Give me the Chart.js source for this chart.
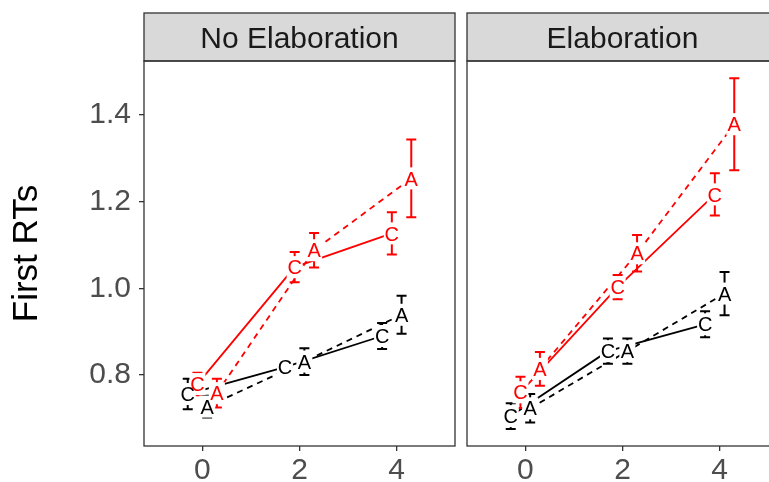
<!DOCTYPE html>
<html>
<head>
<meta charset="utf-8">
<script src="https://cdn.jsdelivr.net/npm/chart.js@4.4.0/dist/chart.umd.min.js"></script>
<style>
  html, body { margin: 0; padding: 0; background: #fff; overflow: hidden; width: 769px; height: 482px; }
  .panel { position: absolute; top: 0; }
</style>
</head>
<body>
<canvas id="noElabChart" class="panel" width="458" height="482" style="left:0"></canvas>
<canvas id="elabChart" class="panel" width="322" height="482" style="left:458px"></canvas>
<script>
// x positions and y tick values
const sessions = [0, 2, 4];
const yTickValues = [0.8, 1.0, 1.2, 1.4];
const panelTitles = ['No Elaboration', 'Elaboration'];

// No Elaboration panel: means and error half widths
const noElabBlackC = [0.756, 0.818, 0.890];
const noElabBlackCErr = [0.035, 0.017, 0.030];
const noElabBlackA = [0.727, 0.831, 0.939];
const noElabBlackAErr = [0.025, 0.031, 0.044];
const noElabRedC = [0.779, 1.049, 1.127];
const noElabRedCErr = [0.026, 0.035, 0.049];
const noElabRedA = [0.758, 1.088, 1.254];
const noElabRedAErr = [0.033, 0.040, 0.090];

// Elaboration panel
const elabBlackC = [0.705, 0.855, 0.917];
const elabBlackCErr = [0.030, 0.029, 0.030];
const elabBlackA = [0.723, 0.855, 0.988];
const elabBlackAErr = [0.033, 0.029, 0.050];
const elabRedC = [0.760, 1.003, 1.217];
const elabRedCErr = [0.036, 0.028, 0.049];
const elabRedA = [0.814, 1.081, 1.379];
const elabRedAErr = [0.039, 0.042, 0.106];

const FONT = "'Liberation Sans', Arial, sans-serif";
const Y_MIN = 0.636, Y_MAX = 1.525;
const X_MIN = -1.2, X_MAX = 5.2;
const LETTER_SIZE = 20;

// letter, colour, line dash and dodge offset for each group
const groupStyles = {
    blackC: { letter: 'C', color: '#000000', dash: [], dodge: -0.3 },
    redC:   { letter: 'C', color: '#FF0000', dash: [], dodge: -0.1 },
    blackA: { letter: 'A', color: '#000000', dash: [6, 5], dodge: 0.1 },
    redA:   { letter: 'A', color: '#FF0000', dash: [6, 5], dodge: 0.3 }
};

function buildGroups(blackC, blackCErr, redC, redCErr, blackA, blackAErr, redA, redAErr) {
    return [
        { style: groupStyles.blackC, mean: blackC, err: blackCErr },
        { style: groupStyles.redC, mean: redC, err: redCErr },
        { style: groupStyles.blackA, mean: blackA, err: blackAErr },
        { style: groupStyles.redA, mean: redA, err: redAErr }
    ];
}

/**
 * Error bars, white label boxes and letters drawn over the lines,
 * then strip and panel border
 */
function panelPlugin(title, groups) {
    return {
        id: 'panelMarks',
        afterDatasetsDraw(chart) {
            const { ctx, scales: { x, y } } = chart;
            ctx.save();
            // error bars
            groups.forEach(g => {
                ctx.strokeStyle = g.style.color;
                ctx.lineWidth = 2;
                ctx.setLineDash([]);
                g.mean.forEach((m, i) => {
                    const px = x.getPixelForValue(sessions[i] + g.style.dodge);
                    const top = y.getPixelForValue(m + g.err[i]);
                    const bot = y.getPixelForValue(m - g.err[i]);
                    ctx.beginPath();
                    ctx.moveTo(px, top); ctx.lineTo(px, bot);
                    ctx.moveTo(px - 5, top); ctx.lineTo(px + 5, top);
                    ctx.moveTo(px - 5, bot); ctx.lineTo(px + 5, bot);
                    ctx.stroke();
                });
            });
            // white boxes behind the letters
            ctx.fillStyle = '#ffffff';
            groups.forEach(g => {
                g.mean.forEach((m, i) => {
                    const px = x.getPixelForValue(sessions[i] + g.style.dodge);
                    const py = y.getPixelForValue(m);
                    ctx.fillRect(px - 8, py - 11, 16, 22);
                });
            });
            // letters
            ctx.font = LETTER_SIZE + 'px ' + FONT;
            ctx.textAlign = 'center';
            ctx.textBaseline = 'alphabetic';
            groups.forEach(g => {
                ctx.fillStyle = g.style.color;
                g.mean.forEach((m, i) => {
                    const px = x.getPixelForValue(sessions[i] + g.style.dodge);
                    const py = y.getPixelForValue(m);
                    ctx.fillText(g.style.letter, px, py + LETTER_SIZE * 0.358);
                });
            });
            ctx.restore();
        },
        afterDraw(chart) {
            const { ctx, chartArea: a } = chart;
            ctx.save();
            ctx.fillStyle = '#D9D9D9';
            ctx.fillRect(a.left, 13, a.right - a.left, a.top - 13);
            ctx.strokeStyle = '#333333';
            ctx.lineWidth = 1.3;
            ctx.strokeRect(a.left, 13, a.right - a.left, a.top - 13);
            ctx.strokeRect(a.left, a.top, a.right - a.left, a.bottom - a.top);
            ctx.fillStyle = '#1A1A1A';
            ctx.font = '30px ' + FONT;
            ctx.textAlign = 'center';
            ctx.textBaseline = 'alphabetic';
            ctx.fillText(title, (a.left + a.right) / 2, (13 + a.top) / 2 + 30 * 0.358);
            ctx.restore();
        }
    };
}

function makePanel(canvasId, title, groups, showY, padding) {
    const datasets = groups.map(g => ({
        data: g.mean.map((m, i) => ({ x: sessions[i] + g.style.dodge, y: m })),
        borderColor: g.style.color,
        borderWidth: 1.8,
        borderDash: g.style.dash,
        pointRadius: 0,
        fill: false,
        tension: 0
    }));

    return new Chart(document.getElementById(canvasId), {
        type: 'line',
        data: { datasets: datasets },
        options: {
            responsive: false,
            animation: false,
            events: [],
            layout: { padding: padding },
            plugins: {
                legend: { display: false },
                tooltip: { enabled: false },
                title: { display: false }
            },
            scales: {
                x: {
                    type: 'linear',
                    min: X_MIN,
                    max: X_MAX,
                    afterBuildTicks: s => { s.ticks = sessions.map(v => ({ value: v })); },
                    afterFit: s => { s.height = 36; },
                    grid: { drawOnChartArea: false, drawTicks: true, tickLength: 5, color: '#333333', lineWidth: 1.3 },
                    border: { display: false },
                    ticks: {
                        color: '#4D4D4D',
                        font: { family: FONT, size: 30 },
                        padding: 2,
                        maxRotation: 0
                    }
                },
                y: {
                    type: 'linear',
                    display: showY,
                    min: Y_MIN,
                    max: Y_MAX,
                    afterBuildTicks: s => { s.ticks = yTickValues.map(v => ({ value: v })); },
                    afterFit: s => { s.width = showY ? 144 : 0; },
                    grid: { drawOnChartArea: false, drawTicks: true, tickLength: 5, color: '#333333', lineWidth: 1.3 },
                    border: { display: false },
                    ticks: {
                        color: '#4D4D4D',
                        font: { family: FONT, size: 30 },
                        padding: 8,
                        callback: v => v.toFixed(1)
                    },
                    title: {
                        display: true,
                        text: 'First RTs',
                        color: '#000000',
                        font: { family: FONT, size: 35 },
                        padding: { top: 6, bottom: 0 }
                    }
                }
            }
        },
        plugins: [panelPlugin(title, groups)]
    });
}

document.addEventListener('DOMContentLoaded', function() {
    makePanel('noElabChart', panelTitles[0],
        buildGroups(noElabBlackC, noElabBlackCErr, noElabRedC, noElabRedCErr,
                    noElabBlackA, noElabBlackAErr, noElabRedA, noElabRedAErr),
        true, { top: 61, right: 3, left: 0, bottom: 0 });
    makePanel('elabChart', panelTitles[1],
        buildGroups(elabBlackC, elabBlackCErr, elabRedC, elabRedCErr,
                    elabBlackA, elabBlackAErr, elabRedA, elabRedAErr),
        false, { top: 61, right: 2, left: 9, bottom: 0 });
});
</script>
</body>
</html>
